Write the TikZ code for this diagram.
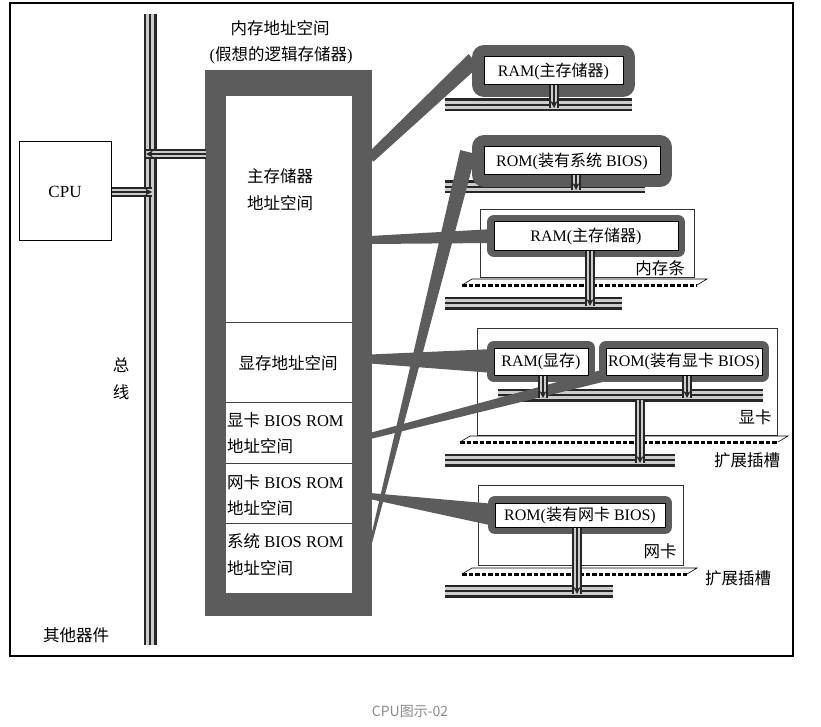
\documentclass[tikz,border=0pt]{standalone}
\usepackage{fontspec}
\setmainfont{Liberation Serif}
\newfontfamily\zhfont{Noto Sans CJK SC}
\newcommand{\zh}[1]{{\zhfont #1}}
\usetikzlibrary{arrows.meta,calc}
\definecolor{blobgray}{gray}{0.36}
\definecolor{railgray}{gray}{0.80}
\tikzset{
  busline/.style={line width=13pt,draw=black!85,postaction={draw=railgray,line width=8pt},postaction={draw=black!85,line width=2.5pt}},
  tapline/.style={line width=10pt,draw=black!85,postaction={draw=railgray,line width=6pt},postaction={draw=black!85,line width=2pt,-{Stealth[length=7pt,width=7pt]}}},
  chip/.style={draw=black,line width=1pt,fill=white,inner sep=1pt,font=\fontsize{16}{18}\selectfont,
    preaction={draw=blobgray,line width=#1,line join=round}},
  chip/.default=18pt,
  card/.style={draw=black!80,line width=0.8pt},
  lbl/.style={font=\fontsize{16.5}{19}\selectfont,inner sep=0pt},
  slotline/.style={draw=black,line width=0.6pt},
  slotdash/.style={draw=black,line width=3pt,dash pattern=on 4.5pt off 2pt}
}
\newcommand{\band}[4]{\fill[blobgray] ($(#1)!#3!90:(#2)$) -- ($(#2)!#4!-90:(#1)$) -- ($(#2)!#4!90:(#1)$) -- ($(#1)!#3!-90:(#2)$) -- cycle;}

\begin{document}
\begin{tikzpicture}[x=1pt,y=-1pt]
\useasboundingbox (0,0) rectangle (821,727);
\fill[white] (0,0) rectangle (821,727);
\draw[line width=1.5pt] (10,3) rectangle (793,656);

% CPU and bus
\node[draw,line width=1pt,minimum width=92pt,minimum height=99pt,font=\fontsize{17}{19}\selectfont] (cpu) at (65,191.5) {CPU};
\coordinate (bustop) at (150,14);
\coordinate (busbot) at (150,645);
\draw[busline] (bustop) -- (busbot);
\draw[tapline] (cpu.east |- 0,192) -- (152,192);

% memory address space
\fill[blobgray] (205,70) rectangle (372,616);
\node[fill=white,minimum width=126pt,minimum height=497pt,inner sep=0pt] (mem) at (289,344.5) {};
\draw[tapline] (mem.west |- 0,154) ++(-20,0) -- (146,154);
\foreach \yy in {322,402,463,523}
  \draw[black!75,line width=1pt] (mem.west |- 0,\yy) -- (mem.east |- 0,\yy);

% slots and buses
\draw[busline] (445,105) -- (632,105);
\draw[busline] (445,187) -- (645,187);
\draw[busline] (445,303) -- (622,303);
\draw[busline] (445,460) -- (675,460);
\draw[busline] (445,591) -- (613,591);

\draw[card] (480,209) rectangle (694,277);
\draw[card] (477,328) rectangle (777,435);
\draw[card] (478,485) rectangle (683,565);

\draw[slotline] (462,285) -- (472,279) -- (707,279) -- (697,285);
\draw[slotdash] (462,285) -- (697,285);
\draw[slotline] (460,442) -- (470,436) -- (788,436) -- (778,442);
\draw[slotdash] (460,442) -- (778,442);
\draw[slotline] (462,574) -- (472,568) -- (697,568) -- (687,574);
\draw[slotdash] (462,574) -- (687,574);

\draw[busline] (498,395) -- (763,395);

% bands from address space to chips
\coordinate (p1) at (370,158);
\coordinate (p2) at (370,240);
\coordinate (p3) at (370,546);
\coordinate (p4) at (370,359);
\coordinate (p5) at (370,436);
\coordinate (p6) at (370,496);
\coordinate (t1) at (474,60);
\coordinate (t2) at (494,236);
\coordinate (t3) at (468,152);
\coordinate (t4) at (494,361);
\coordinate (t5) at (606,375);
\coordinate (t6) at (495,515);
\band{p1}{t1}{5pt}{8pt}
\band{p2}{t2}{4pt}{7pt}
\band{p3}{t3}{1.2pt}{8pt}
\band{p4}{t4}{4.5pt}{12pt}
\band{p5}{t5}{3pt}{6pt}
\band{p6}{t6}{3pt}{11pt}

% chips
\node[chip=24pt,minimum width=139pt,minimum height=28pt] (ram1) at (553.5,71) {RAM(\zh{主存储器})};
\node[chip=24pt,minimum width=176pt,minimum height=28pt] (rom1) at (572,161) {ROM(\zh{装有系统} BIOS)};
\node[chip=14pt,minimum width=184pt,minimum height=28pt] (ram2) at (586,236) {RAM(\zh{主存储器})};
\node[chip=14pt,minimum width=94pt,minimum height=27pt] (vram) at (541,361.5) {RAM(\zh{显存})};
\node[chip=14pt,minimum width=156pt,minimum height=27pt] (vrom) at (684,361.5) {ROM(\zh{装有显卡} BIOS)};
\node[chip=14pt,minimum width=170pt,minimum height=24pt] (nrom) at (580,515) {ROM(\zh{装有网卡} BIOS)};

\draw[tapline] (ram1.south -| 554,0) -- (554,108);
\draw[tapline] (rom1.south -| 576,0) -- (576,190);
\draw[tapline] (ram2.south -| 590,0) -- (590,306);
\draw[tapline] (vram.south -| 543,0) -- (543,398);
\draw[tapline] (vrom.south -| 687,0) -- (687,398);
\draw[tapline] (640,400) -- (640,463);
\draw[tapline] (nrom.south -| 577,0) -- (577,594);

% labels
\node[lbl] (memt1) at (280,28) {\zh{内存地址空间}};
\node[lbl] (memt2) at (281,55) {(\zh{假想的逻辑存储器})};
\node[lbl] (mainA) at (280,176) {\zh{主存储器}};
\node[lbl] (mainB) at (280,203) {\zh{地址空间}};
\node[lbl] (vmem) at (288,363) {\zh{显存地址空间}};
\node[lbl,anchor=west] (vbiosA) at (227,420) {\zh{显卡} BIOS ROM};
\node[lbl,anchor=west] (vbiosB) at (227,446) {\zh{地址空间}};
\node[lbl,anchor=west] (nbiosA) at (227,482) {\zh{网卡} BIOS ROM};
\node[lbl,anchor=west] (nbiosB) at (227,508) {\zh{地址空间}};
\node[lbl,anchor=west] (sbiosA) at (227,541) {\zh{系统} BIOS ROM};
\node[lbl,anchor=west] (sbiosB) at (227,568) {\zh{地址空间}};
\node[lbl] (bus1) at (121,365) {\zh{总}};
\node[lbl] (bus2) at (121,392) {\zh{线}};
\node[lbl] (other) at (76,635) {\zh{其他器件}};
\node[lbl,fill=white] (dimm) at (660,268) {\zh{内存条}};
\node[lbl] (vga) at (755,417) {\zh{显卡}};
\node[lbl] (slotA) at (747,460) {\zh{扩展插槽}};
\node[lbl] (nic) at (660,551) {\zh{网卡}};
\node[lbl] (slotB) at (738,578) {\zh{扩展插槽}};
\node[font=\zhfont\fontsize{14}{16}\selectfont,text=black!45] (cap) at (410,711) {CPU图示-02};
\end{tikzpicture}
\end{document}
